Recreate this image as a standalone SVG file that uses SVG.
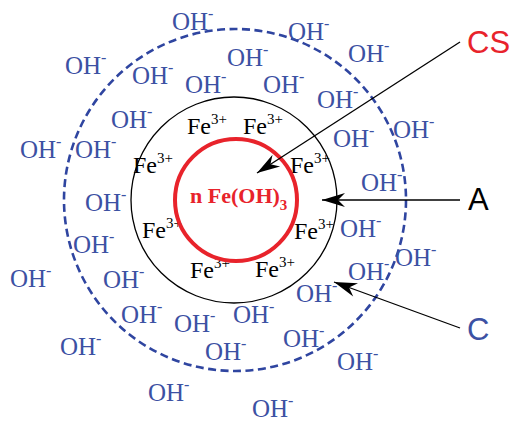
<svg xmlns="http://www.w3.org/2000/svg" width="510" height="421" viewBox="0 0 510 421">
<style>
.oh{font-family:"Liberation Serif","Times New Roman",serif;font-size:25px;fill:#3c51a3}
.m{font-size:16px}
.fe{font-family:"Liberation Serif","Times New Roman",serif;font-size:24px;fill:#000}
.s{font-size:15px}
.lbl{font-family:"Liberation Sans",Arial,sans-serif;font-size:31px}
.ln{stroke:#000;stroke-width:1.3;fill:none}
</style>
<defs>
<marker id="ah" viewBox="-24 -8 25 16" refX="0" refY="0" markerWidth="25" markerHeight="16" markerUnits="userSpaceOnUse" orient="auto">
<path d="M0,0 L-23,-7 L-16,0 L-23,7 Z" fill="#000"/>
</marker>
</defs>
<rect width="510" height="421" fill="#fff"/>
<g id="outer-layer">
<circle cx="235" cy="200" r="171" fill="none" stroke="#2f45a0" stroke-width="2.6" stroke-dasharray="8,4.5"/>
</g>
<g id="fe-layer">
<circle cx="234" cy="200" r="103" fill="none" stroke="#000" stroke-width="1.3"/>
<text class="fe" x="187" y="134">Fe<tspan class="s" dy="-10">3+</tspan></text>
<text class="fe" x="243" y="134">Fe<tspan class="s" dy="-10">3+</tspan></text>
<text class="fe" x="133" y="173">Fe<tspan class="s" dy="-10">3+</tspan></text>
<text class="fe" x="290" y="173">Fe<tspan class="s" dy="-10">3+</tspan></text>
<text class="fe" x="142" y="238">Fe<tspan class="s" dy="-10">3+</tspan></text>
<text class="fe" x="294" y="239">Fe<tspan class="s" dy="-10">3+</tspan></text>
<text class="fe" x="190" y="278">Fe<tspan class="s" dy="-10">3+</tspan></text>
<text class="fe" x="255" y="277">Fe<tspan class="s" dy="-10">3+</tspan></text>
</g>
<g id="core">
<circle cx="236" cy="200" r="61" fill="none" stroke="#e8232b" stroke-width="4"/>
<text x="190" y="203" font-family="'Liberation Serif','Times New Roman',serif" font-size="22" font-weight="bold" fill="#e8232b">n Fe(OH)<tspan font-size="15" dy="7">3</tspan></text>
</g>
<g id="oh-ions">
<text class="oh" x="172" y="30">OH<tspan class="m" dy="-11">-</tspan></text>
<text class="oh" x="288" y="40">OH<tspan class="m" dy="-11">-</tspan></text>
<text class="oh" x="65" y="74">OH<tspan class="m" dy="-11">-</tspan></text>
<text class="oh" x="132" y="84">OH<tspan class="m" dy="-11">-</tspan></text>
<text class="oh" x="185" y="93">OH<tspan class="m" dy="-11">-</tspan></text>
<text class="oh" x="227" y="66">OH<tspan class="m" dy="-11">-</tspan></text>
<text class="oh" x="348" y="62">OH<tspan class="m" dy="-11">-</tspan></text>
<text class="oh" x="263" y="93">OH<tspan class="m" dy="-11">-</tspan></text>
<text class="oh" x="317" y="108">OH<tspan class="m" dy="-11">-</tspan></text>
<text class="oh" x="333" y="147">OH<tspan class="m" dy="-11">-</tspan></text>
<text class="oh" x="393" y="138">OH<tspan class="m" dy="-11">-</tspan></text>
<text class="oh" x="111" y="128">OH<tspan class="m" dy="-11">-</tspan></text>
<text class="oh" x="20" y="158">OH<tspan class="m" dy="-11">-</tspan></text>
<text class="oh" x="75" y="158">OH<tspan class="m" dy="-11">-</tspan></text>
<text class="oh" x="85" y="211">OH<tspan class="m" dy="-11">-</tspan></text>
<text class="oh" x="73" y="253">OH<tspan class="m" dy="-11">-</tspan></text>
<text class="oh" x="10" y="287">OH<tspan class="m" dy="-11">-</tspan></text>
<text class="oh" x="103" y="288">OH<tspan class="m" dy="-11">-</tspan></text>
<text class="oh" x="121" y="323">OH<tspan class="m" dy="-11">-</tspan></text>
<text class="oh" x="174" y="332">OH<tspan class="m" dy="-11">-</tspan></text>
<text class="oh" x="233" y="323">OH<tspan class="m" dy="-11">-</tspan></text>
<text class="oh" x="60" y="355">OH<tspan class="m" dy="-11">-</tspan></text>
<text class="oh" x="205" y="360">OH<tspan class="m" dy="-11">-</tspan></text>
<text class="oh" x="148" y="401">OH<tspan class="m" dy="-11">-</tspan></text>
<text class="oh" x="252" y="417">OH<tspan class="m" dy="-11">-</tspan></text>
<text class="oh" x="296" y="302">OH<tspan class="m" dy="-11">-</tspan></text>
<text class="oh" x="283" y="347">OH<tspan class="m" dy="-11">-</tspan></text>
<text class="oh" x="337" y="370">OH<tspan class="m" dy="-11">-</tspan></text>
<text class="oh" x="361" y="191">OH<tspan class="m" dy="-11">-</tspan></text>
<text class="oh" x="340" y="237">OH<tspan class="m" dy="-11">-</tspan></text>
<text class="oh" x="395" y="266">OH<tspan class="m" dy="-11">-</tspan></text>
<text class="oh" x="348" y="280">OH<tspan class="m" dy="-11">-</tspan></text>
</g>
<g id="connectors">
<line class="ln" x1="460" y1="42" x2="257" y2="173" marker-end="url(#ah)"/>
<line class="ln" x1="460" y1="200" x2="322" y2="200" marker-end="url(#ah)"/>
<line class="ln" x1="460" y1="328" x2="334" y2="282" marker-end="url(#ah)"/>
</g>
<g id="label-cs"><text class="lbl" x="467" y="53" fill="#e8232b">CS</text></g>
<g id="label-a"><text class="lbl" x="468" y="210" fill="#000">A</text></g>
<g id="label-c"><text class="lbl" x="467" y="340" fill="#3c51a3">C</text></g>
</svg>
